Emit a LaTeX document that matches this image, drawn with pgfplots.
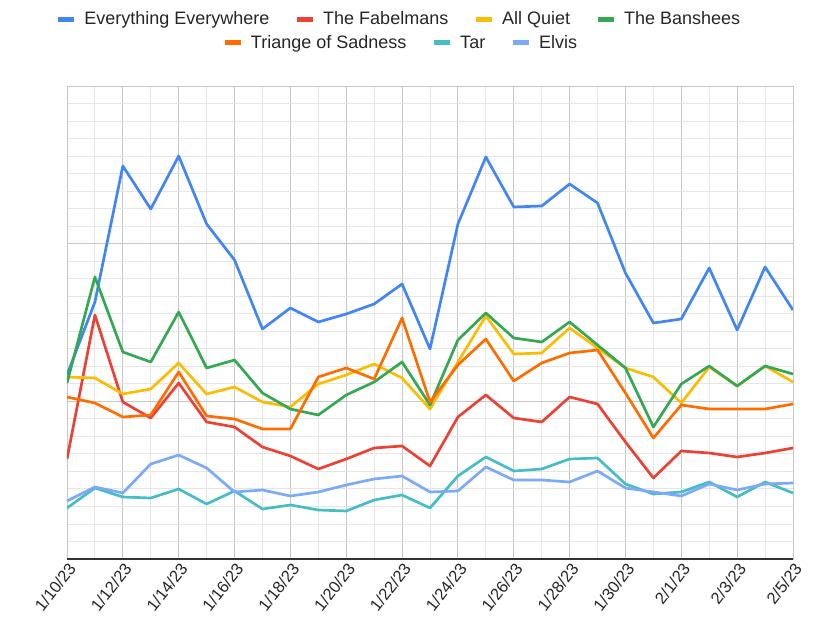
\documentclass[border=0pt]{standalone}
\usepackage{fontspec}
\setmainfont{Liberation Sans}
\usepackage{pgfplots}
\pgfplotsset{compat=1.18}
\usepackage{pgfplotstable}
\definecolor{cEE}{HTML}{4285F4}
\definecolor{cFab}{HTML}{EA4335}
\definecolor{cAQ}{HTML}{FBBC04}
\definecolor{cBan}{HTML}{34A853}
\definecolor{cTri}{HTML}{FF6D01}
\definecolor{cTar}{HTML}{46BDC6}
\definecolor{cElv}{HTML}{7BAAF7}
\pgfplotstableread{
x ee fab aq ban tri tar elv
0 184 100 182 176 162 51 58
1 257 244 181 282 156 71 72
2 393 157 165 207 142 62 66
3 350 141 170 197 144 61 95
4 403 176 196 247 187 70 104
5 335 137 165 191 143 55 91
6 299 132 172 199 140 68 67
7 230 112 157 166 130 50 69
8 251 103 152 150 130 54 63
9 237 90 175 144 182 49 67
10 245 100 184 164 191 48 74
11 255 111 195 177 180 59 80
12 275 113 181 197 241 64 83
13 210 93 150 154 157 51 67
14 335 142 197 219 194 83 68
15 402 164 243 246 220 102 92
16 352 141 205 221 178 88 79
17 353 137 206 217 196 90 79
18 375 162 231 237 206 100 77
19 356 155 211 214 209 101 88
20 286 117 191 191 166 75 71
21 236 81 182 132 121 65 67
22 240 108 156 175 154 67 63
23 291 106 192 193 150 77 75
24 229 102 173 173 150 62 69
25 292 106 193 193 150 77 75
26 249 111 177 185 155 66 76
}\data
\pgfplotsset{
  mylegend/.style={
    legend style={anchor=center, draw=none, fill=none, legend columns=4,
      font=\fontsize{18bp}{21bp}\selectfont, text=black!85,
      /tikz/every even column/.append style={column sep=23bp}},
    legend image code/.code={\draw[##1, line width=5bp, line cap=butt] (0bp,0bp) -- (16bp,0bp); \path (23bp,0bp);}
  }
}
\begin{document}
\begin{tikzpicture}
\path[use as bounding box] (-67bp,-73bp) rectangle (750bp,559bp);
\begin{axis}[
  at={(0,0)}, anchor=south west, scale only axis,
  width=726bp, height=473bp,
  xmin=0, xmax=26, ymin=0, ymax=473,
  xtick={0,2,...,26},
  minor xtick={1,3,...,25},
  ytick={0,157.667,315.333,473},
  minor ytick={17.519,35.037,52.556,70.074,87.593,105.111,122.63,140.148,175.185,192.704,210.222,227.741,245.259,262.778,280.296,297.815,332.852,350.370,367.889,385.407,402.926,420.444,437.963,455.481},
  xticklabels={1/10/23,1/12/23,1/14/23,1/16/23,1/18/23,1/20/23,1/22/23,1/24/23,1/26/23,1/28/23,1/30/23,2/1/23,2/3/23,2/5/23},
  yticklabels={},
  grid=both,
  major grid style={draw=black!22, line width=0.9bp},
  minor grid style={draw=black!10, line width=0.9bp},
  axis line style={draw=black!22, line width=0.9bp},
  major tick length=0pt, minor tick length=0pt,
  x tick label style={rotate=52, anchor=north east, font=\fontsize{16.5bp}{18bp}\selectfont, text=black!85, inner sep=2bp},
  every axis plot/.append style={line width=2.7bp, line join=round, mark=none},
  mylegend,
  legend style={at={(0.457,1.1416)}},
]
\addplot[cEE] table[x=x, y=ee] {\data};
\addplot[cFab] table[x=x, y=fab] {\data};
\addplot[cAQ] table[x=x, y=aq] {\data};
\addplot[cBan] table[x=x, y=ban] {\data};
\addplot[cTri] table[x=x, y=tri] {\data};
\addplot[cTar] table[x=x, y=tar] {\data};
\addplot[cElv] table[x=x, y=elv] {\data};
\legend{Everything Everywhere, The Fabelmans, All Quiet, The Banshees}
\end{axis}
\begin{axis}[
  at={(0,0)}, anchor=south west, scale only axis,
  width=726bp, height=473bp,
  xmin=0, xmax=26, ymin=0, ymax=473,
  hide axis,
  mylegend,
  legend style={at={(0.4595,1.091)}},
]
\addlegendimage{cTri, line width=2.7bp}
\addlegendentry{Triange of Sadness}
\addlegendimage{cTar, line width=2.7bp}
\addlegendentry{Tar}
\addlegendimage{cElv, line width=2.7bp}
\addlegendentry{Elvis}
\end{axis}
\draw[black!80, line width=1.6bp] (0,0) -- (726bp,0);
\end{tikzpicture}
\end{document}
